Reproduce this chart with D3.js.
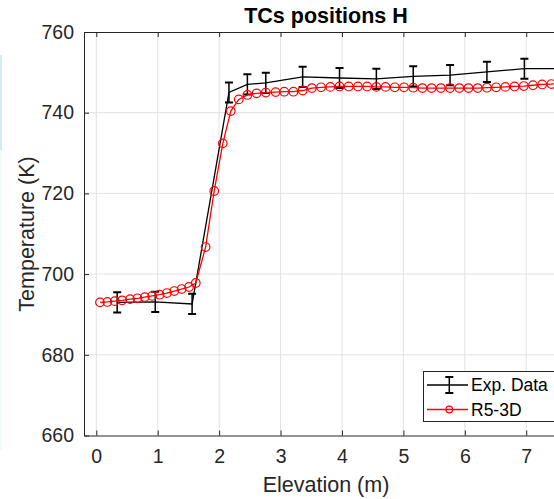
<!DOCTYPE html>
<html>
<head>
<meta charset="utf-8">
<script src="https://cdn.jsdelivr.net/npm/d3@7"></script>
<style>
  html, body { margin: 0; padding: 0; background: #fff; }
  svg { display: block; }
  text { font-family: "Liberation Sans", Arial, Helvetica, sans-serif; }
</style>
</head>
<body>
<svg id="chart" width="554" height="499"></svg>
<script>
// ---- data ----
const expX = [0.34, 0.96, 1.56, 2.16, 2.46, 2.76, 3.36, 3.96, 4.56, 5.16, 5.76, 6.36, 6.97, 7.57];
const expT = [693.0, 693.1, 692.6, 745.0, 747.0, 747.4, 748.9, 748.6, 748.4, 749.0, 749.3, 750.1, 750.9, 750.9];
const expErr = [2.5, 2.5, 2.5, 2.5, 2.5, 2.5, 2.5, 2.5, 2.5, 2.5, 2.5, 2.5, 2.5, 2.5];

const simX = [0.06, 0.18, 0.30, 0.42, 0.55, 0.67, 0.79, 0.91, 1.03, 1.15, 1.27, 1.39, 1.51, 1.62,
              1.78, 1.92, 2.06, 2.19, 2.32, 2.46, 2.61, 2.76, 2.92,
              3.06, 3.21, 3.36, 3.51, 3.66, 3.81, 3.96, 4.11, 4.26, 4.41, 4.56, 4.71, 4.86, 5.01,
              5.16, 5.31, 5.46, 5.61, 5.76, 5.91, 6.06, 6.21, 6.36, 6.51, 6.66, 6.81, 6.96, 7.11,
              7.26, 7.41, 7.56];
const simT = [693.0, 693.1, 693.3, 693.5, 693.8, 694.0, 694.3, 694.6, 694.9, 695.3, 695.8, 696.3, 696.8, 697.8,
              706.7, 720.6, 732.4, 740.4, 743.3, 744.4, 744.8, 745.0, 745.1,
              745.2, 745.2, 745.5, 746.1, 746.3, 746.4, 746.5, 746.5, 746.5, 746.5, 746.4, 746.4, 746.3, 746.3,
              746.2, 746.1, 746.1, 746.1, 746.1, 746.1, 746.1, 746.1, 746.2, 746.3, 746.4, 746.5, 746.6, 746.8,
              747.0, 747.1, 747.2];

const xTicks = [0, 1, 2, 3, 4, 5, 6, 7];
const yTicks = [660, 680, 700, 720, 740, 760];
const seriesNames = ["Exp. Data", "R5-3D"];
const titleText = "TCs positions H";
const xLabel = "Elevation (m)";
const yLabel = "Temperature (K)";

// ---- layout ----
const svg = d3.select("#chart");
const L = 84, T = 32, B = 435.5, R = 568;
const axisColor = "#262626";
const x = d3.scaleLinear().domain([-0.2, 7.68]).range([L, R]);
const y = d3.scaleLinear().domain([660, 760]).range([B, T]);

// faint artifact strip at left edge
svg.append("rect").attr("x", 0).attr("y", 55).attr("width", 2).attr("height", 95).attr("fill", "#d3ecef");
svg.append("rect").attr("x", 0).attr("y", 150).attr("width", 1.5).attr("height", 300).attr("fill", "#eef8f9");

svg.append("defs").append("clipPath").attr("id", "clip")
  .append("rect").attr("x", L).attr("y", T).attr("width", R - L).attr("height", B - T);

// grid
const grid = svg.append("g");
grid.selectAll(".gx").data(xTicks).join("line")
  .attr("x1", d => x(d)).attr("x2", d => x(d)).attr("y1", T).attr("y2", B)
  .attr("stroke", "#e2e2e2").attr("stroke-width", 1);
grid.selectAll(".gy").data(yTicks.filter(d => d > 660 && d < 760)).join("line")
  .attr("x1", L).attr("x2", R).attr("y1", d => y(d)).attr("y2", d => y(d))
  .attr("stroke", "#e2e2e2").attr("stroke-width", 1);

// axes
const xAxis = d3.axisBottom(x).tickValues(xTicks).tickSizeInner(-5).tickSizeOuter(0).tickPadding(12);
const yAxis = d3.axisLeft(y).tickValues(yTicks).tickSizeInner(-5).tickSizeOuter(0).tickPadding(10);
const xTop = d3.axisTop(x).tickValues(xTicks).tickSizeInner(-5).tickSizeOuter(0).tickFormat("");

const gx = svg.append("g").attr("transform", `translate(0,${B})`).call(xAxis);
const gy = svg.append("g").attr("transform", `translate(${L},0)`).call(yAxis);
const gt = svg.append("g").attr("transform", `translate(0,${T})`).call(xTop);
[gx, gy, gt].forEach(g => {
  g.select(".domain").attr("stroke", axisColor).attr("stroke-width", 1);
  g.selectAll(".tick line").attr("stroke", axisColor).attr("stroke-width", 1);
  g.selectAll("text").attr("fill", axisColor).style("font-size", "19.5px")
    .style("font-family", "'Liberation Sans', Arial, sans-serif");
});
gx.selectAll("text").attr("dy", "0.78em");

// data
const plot = svg.append("g").attr("clip-path", "url(#clip)");
const expData = expX.map((d, i) => ({ x: d, t: expT[i], e: expErr[i] }));
const simData = simX.map((d, i) => ({ x: d, t: simT[i] }));

const line = d3.line().x(d => x(d.x)).y(d => y(d.t));

plot.append("path").datum(expData).attr("d", line)
  .attr("fill", "none").attr("stroke", "#000").attr("stroke-width", 1.3);
const eb = plot.append("g");
eb.selectAll(".ev").data(expData).join("line")
  .attr("x1", d => x(d.x)).attr("x2", d => x(d.x))
  .attr("y1", d => y(d.t - d.e)).attr("y2", d => y(d.t + d.e))
  .attr("stroke", "#000").attr("stroke-width", 1.5);
eb.selectAll(".et").data(expData).join("line")
  .attr("x1", d => x(d.x) - 4).attr("x2", d => x(d.x) + 4)
  .attr("y1", d => y(d.t + d.e)).attr("y2", d => y(d.t + d.e))
  .attr("stroke", "#000").attr("stroke-width", 2);
eb.selectAll(".eb").data(expData).join("line")
  .attr("x1", d => x(d.x) - 4).attr("x2", d => x(d.x) + 4)
  .attr("y1", d => y(d.t - d.e)).attr("y2", d => y(d.t - d.e))
  .attr("stroke", "#000").attr("stroke-width", 2);

plot.append("path").datum(simData).attr("d", line)
  .attr("fill", "none").attr("stroke", "#ff0000").attr("stroke-width", 1.3);
plot.selectAll(".sc").data(simData).join("circle")
  .attr("cx", d => x(d.x)).attr("cy", d => y(d.t)).attr("r", 4.3)
  .attr("fill", "none").attr("stroke", "#ff0000").attr("stroke-width", 1.2);

// title & labels
svg.append("text").attr("x", 326).attr("y", 22.5).attr("text-anchor", "middle")
  .style("font-size", "21.5px").style("font-weight", "bold").attr("fill", "#000").text(titleText);
svg.append("text").attr("x", 326).attr("y", 492).attr("text-anchor", "middle")
  .style("font-size", "21.5px").attr("fill", axisColor).text(xLabel);
svg.append("text").attr("transform", "translate(34,234) rotate(-90)").attr("text-anchor", "middle")
  .style("font-size", "21.5px").attr("fill", axisColor).text(yLabel);

// legend
const lg = svg.append("g");
lg.append("rect").attr("x", 423.5).attr("y", 371.5).attr("width", 160).attr("height", 50)
  .attr("fill", "#fff").attr("stroke", axisColor).attr("stroke-width", 1);
const ly1 = 385, ly2 = 409.5, lx0 = 427, lx1 = 468, lxc = 449.3;
lg.append("line").attr("x1", lx0).attr("x2", lx1).attr("y1", ly1).attr("y2", ly1)
  .attr("stroke", "#000").attr("stroke-width", 1.3);
lg.append("line").attr("x1", lxc).attr("x2", lxc).attr("y1", ly1 - 8).attr("y2", ly1 + 8)
  .attr("stroke", "#000").attr("stroke-width", 1.5);
[ly1 - 8, ly1 + 8].forEach(yy => lg.append("line").attr("x1", lxc - 4).attr("x2", lxc + 4)
  .attr("y1", yy).attr("y2", yy).attr("stroke", "#000").attr("stroke-width", 2));
lg.append("line").attr("x1", lx0).attr("x2", lx1).attr("y1", ly2).attr("y2", ly2)
  .attr("stroke", "#ff0000").attr("stroke-width", 1.3);
lg.append("circle").attr("cx", lxc).attr("cy", ly2).attr("r", 3.3)
  .attr("fill", "none").attr("stroke", "#ff0000").attr("stroke-width", 1.2);
lg.selectAll(".lt").data(seriesNames).join("text")
  .attr("x", 471).attr("y", (d, i) => (i === 0 ? ly1 : ly2) + 6.3)
  .style("font-size", "17.5px").attr("fill", "#000").text(d => d);
</script>
</body>
</html>
